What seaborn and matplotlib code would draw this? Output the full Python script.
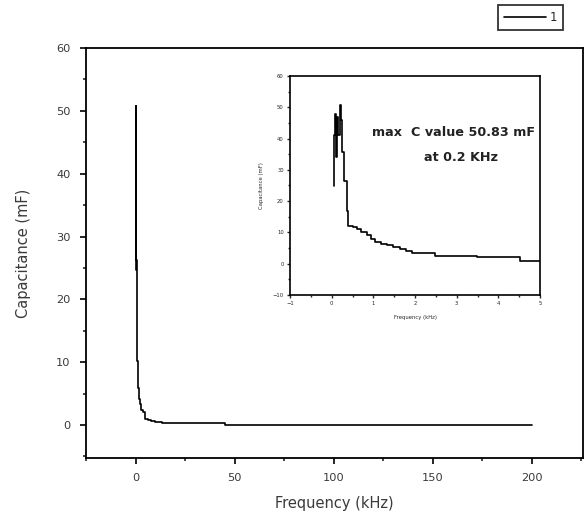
import numpy as np
import pandas as pd
import matplotlib
matplotlib.use("Agg")
import matplotlib.pyplot as plt
import seaborn as sns
from matplotlib.ticker import MultipleLocator

# frequency (kHz) and capacitance (mF)
freq = [0.05, 0.05, 0.08, 0.10, 0.12, 0.16, 0.20, 0.22, 0.25, 0.30, 0.36, 0.40,
        0.50, 0.60, 0.70, 0.84, 0.94, 1.04, 1.18, 1.32, 1.48, 1.64, 1.78, 1.92,
        2.48, 3.48, 4.52, 6.0, 7.5, 9.5, 13.0, 45.0, 200.0]
cap = [24.7, 41.2, 48.0, 34.0, 47.0, 41.0, 50.83, 46.0, 35.6, 26.3, 17.0, 12.0,
       11.6, 11.0, 10.2, 9.2, 8.0, 7.0, 6.4, 5.9, 5.3, 4.8, 4.1, 3.4,
       2.4, 2.1, 1.0, 0.8, 0.6, 0.45, 0.3, 0.02, 0.02]
series_name = "1"
note_lines = ["max  C value 50.83 mF", "at 0.2 KHz"]

df = pd.DataFrame({"freq": freq, "cap": cap})

sns.set_theme(style="ticks")
plt.rcParams["font.family"] = ["DejaVu Sans"]
plt.rcParams["axes.linewidth"] = 1.3

fig = plt.figure(figsize=(5.86, 5.17), dpi=100)
ax = fig.add_axes([0.1468, 0.1141, 0.848, 0.793])

sns.lineplot(data=df, x="freq", y="cap", ax=ax, color="black", lw=1.2,
             estimator=None, sort=False, drawstyle="steps-post", label=series_name)
ax.set_xlim(-25.2, 226)
ax.set_ylim(-5.25, 60)
ax.xaxis.set_major_locator(MultipleLocator(50))
ax.xaxis.set_minor_locator(MultipleLocator(25))
ax.yaxis.set_major_locator(MultipleLocator(10))
ax.yaxis.set_minor_locator(MultipleLocator(5))
ax.tick_params(which="major", length=4, width=1.2, labelsize=8.2,
               colors="black", labelcolor="#3a3a3a", pad=7)
ax.tick_params(which="minor", length=2.5, width=1.2)
ax.set_xlabel("Frequency (kHz)", fontsize=10.5, labelpad=9, color="#3a3a3a")
ax.set_ylabel("Capacitance (mF)", fontsize=10.5, labelpad=18, color="#3a3a3a")
for s in ax.spines.values():
    s.set_color("black")

ax.get_legend().remove()
handles, labels = ax.get_legend_handles_labels()
leg = fig.legend(handles, labels, loc="upper right",
                 bbox_to_anchor=(563 / 586, 1 - 5 / 517), fontsize=8.5,
                 frameon=True, fancybox=False, edgecolor="black",
                 handlelength=3.6, handletextpad=0.3, borderpad=0.5,
                 borderaxespad=0)
leg.get_frame().set_linewidth(1.3)

# inset zoom on the low-frequency part
ins = fig.add_axes([0.4949, 0.4294, 0.4266, 0.4236])
sns.lineplot(data=df, x="freq", y="cap", ax=ins, color="black", lw=1.2,
             estimator=None, sort=False, drawstyle="steps-post", legend=False)
ins.set_xlim(-1, 5)
ins.set_ylim(-10, 60)
ins.xaxis.set_major_locator(MultipleLocator(1))
ins.xaxis.set_minor_locator(MultipleLocator(0.5))
ins.yaxis.set_major_locator(MultipleLocator(10))
ins.yaxis.set_minor_locator(MultipleLocator(5))
ins.tick_params(which="major", length=2.5, width=1.0, labelsize=3.8, pad=2)
ins.tick_params(which="minor", length=1.5, width=1.0)
ins.set_xlabel("Frequency (kHz)", fontsize=3.8, labelpad=6)
ins.set_ylabel("Capacitance (mF)", fontsize=3.8, labelpad=6)
for s in ins.spines.values():
    s.set_color("black")
    s.set_linewidth(1.2)
ins.text(2.92, 41.9, note_lines[0], ha="center", va="center", fontsize=9.2,
         fontweight="bold", color="#222222")
ins.text(3.11, 33.8, note_lines[1], ha="center", va="center", fontsize=9.2,
         fontweight="bold", color="#222222")

fig.savefig("out.png", dpi=100)
